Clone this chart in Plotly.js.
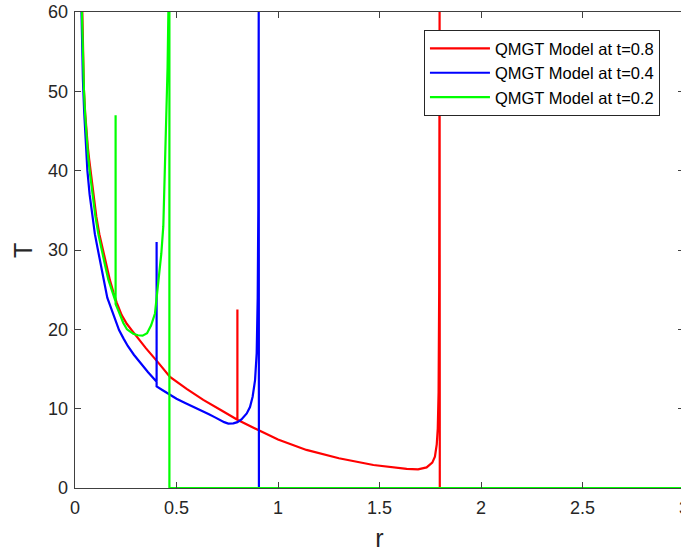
<!DOCTYPE html>
<html>
<head>
<meta charset="utf-8">
<script src="https://cdn.plot.ly/plotly-3.0.1.min.js"></script>
<style>
html,body{margin:0;padding:0;overflow:hidden;background:#fff;}
#chart{width:690px;height:552px;}
</style>
</head>
<body>
<div id="chart"></div>
<script>
// Series names
const seriesNames = ["QMGT Model at t=0.8", "QMGT Model at t=0.4", "QMGT Model at t=0.2"];
const xTitle = "r";
const yTitle = "T";

// t = 0.8 (red)
const r08 = [0.036,0.04,0.044,0.05,0.056,0.063,0.07,0.077,0.09,0.105,0.12,0.137,0.155,0.172,0.19,0.205,0.23,0.255,0.282,0.32,0.35,0.41,0.468,0.55,0.632,0.72,0.8,0.8,0.8,0.895,1.0,1.14,1.3,1.47,1.56,1.634,1.69,1.732,1.76,1.773,1.782,1.787,1.791,1.794,1.796,1.797,3.0];
const T08 = [60,54.5,50.2,47.3,45,43,41.4,40,37,34.2,32,30,28,26.2,24.6,23.4,21.8,20.7,19.8,18.5,17.6,15.8,14.0,12.5,11.1,9.8,8.6,22.5,8.6,7.4,6.1,4.8,3.75,2.9,2.6,2.4,2.35,2.6,3.2,3.95,5.5,7.5,12,25,60,0,0];

// t = 0.4 (blue)
const r04 = [0.032,0.034,0.037,0.039,0.045,0.052,0.061,0.072,0.085,0.098,0.113,0.125,0.139,0.159,0.179,0.198,0.217,0.24,0.26,0.29,0.32,0.36,0.402,0.402,0.402,0.43,0.468,0.5,0.54,0.58,0.62,0.66,0.69,0.715,0.735,0.755,0.78,0.8,0.82,0.846,0.862,0.875,0.887,0.895,0.9,0.903,0.905,0.906,3.0];
const T04 = [60,57,53.5,51.5,47.5,43.8,40,37,34.3,32,30,28.2,26.6,24.0,22.6,21.2,19.9,18.8,17.9,16.8,15.8,14.6,13.4,31,12.8,12.35,11.7,11.25,10.75,10.3,9.8,9.3,8.9,8.55,8.3,8.12,8.15,8.3,8.65,9.4,10.2,11.5,13.6,17,24,35,60,0,0];

// t = 0.2 (green)
const r02 = [0.034,0.038,0.044,0.05,0.057,0.064,0.072,0.085,0.1,0.115,0.13,0.147,0.164,0.182,0.2,0.2,0.2,0.213,0.225,0.238,0.256,0.27,0.287,0.31,0.333,0.355,0.375,0.394,0.41,0.425,0.435,0.448,0.456,0.46,0.465,0.465,3.0];
const T02 = [60,55,50.2,47,44.3,42,40,37,34.3,32,30,28.2,26.3,24.8,23.5,47,23.2,22.4,21.5,20.8,20.0,19.7,19.45,19.25,19.2,19.5,20.5,22.0,25.5,29.5,33,44,53,60,60,0,0];

const xTicks = [0,0.5,1,1.5,2,2.5,3];
const xTickText = ["0","0.5","1","1.5","2","2.5","3"];
const yTicks = [0,10,20,30,40,50,60];
const yTickText = ["0","10","20","30","40","50","60"];

const colors = ["#ff0000","#0000ff","#00ff00"];
const xs = [r08, r04, r02];
const ys = [T08, T04, T02];

const traces = xs.map((x,i)=>({
  x: x, y: ys[i], type: "scatter", mode: "lines",
  name: seriesNames[i],
  line: {color: colors[i], width: 2.2}
}));

const fontFam = "Liberation Sans, Arial, Helvetica, sans-serif";
const axisColor = "#404040";

const layout = {
  width: 690, height: 552,
  margin: {l: 75, r: 6, t: 12, b: 64},
  paper_bgcolor: "#ffffff", plot_bgcolor: "#ffffff",
  showlegend: true,
  font: {family: fontFam, size: 18, color: "#262626"},
  xaxis: {
    range: [0,3], tickvals: xTicks, ticktext: xTickText,
    ticks: "inside", ticklen: 6, tickwidth: 1, tickcolor: axisColor,
    showline: true, linecolor: axisColor, linewidth: 1.3, mirror: "ticks",
    showgrid: false, zeroline: false, ticklabelstandoff: 3,
    tickfont: {family: fontFam, size: 18, color: "#262626"},
    title: {text: xTitle, font: {family: fontFam, size: 25, color: "#262626"}, standoff: 12}
  },
  yaxis: {
    range: [0,60], tickvals: yTicks, ticktext: yTickText,
    ticks: "inside", ticklen: 6, tickwidth: 1, tickcolor: axisColor,
    showline: true, linecolor: axisColor, linewidth: 1.3, mirror: "ticks",
    showgrid: false, zeroline: false, ticklabelstandoff: 2,
    tickfont: {family: fontFam, size: 18, color: "#262626"}
  },
  annotations: [{
    text: yTitle, xref: "paper", yref: "paper", x: -0.0854, y: 0.5,
    xanchor: "center", yanchor: "middle", textangle: -90, showarrow: false,
    font: {family: fontFam, size: 25, color: "#262626"}
  }],
  legend: {
    x: 0.573, y: 0.962, xanchor: "left", yanchor: "top",
    bgcolor: "#ffffff", bordercolor: "#262626", borderwidth: 1,
    font: {family: fontFam, size: 16.5, color: "#000000"},
    itemwidth: 60, tracegroupgap: 0
  }
};

Plotly.newPlot("chart", traces, layout, {displayModeBar: false, staticPlot: true});
</script>
</body>
</html>
